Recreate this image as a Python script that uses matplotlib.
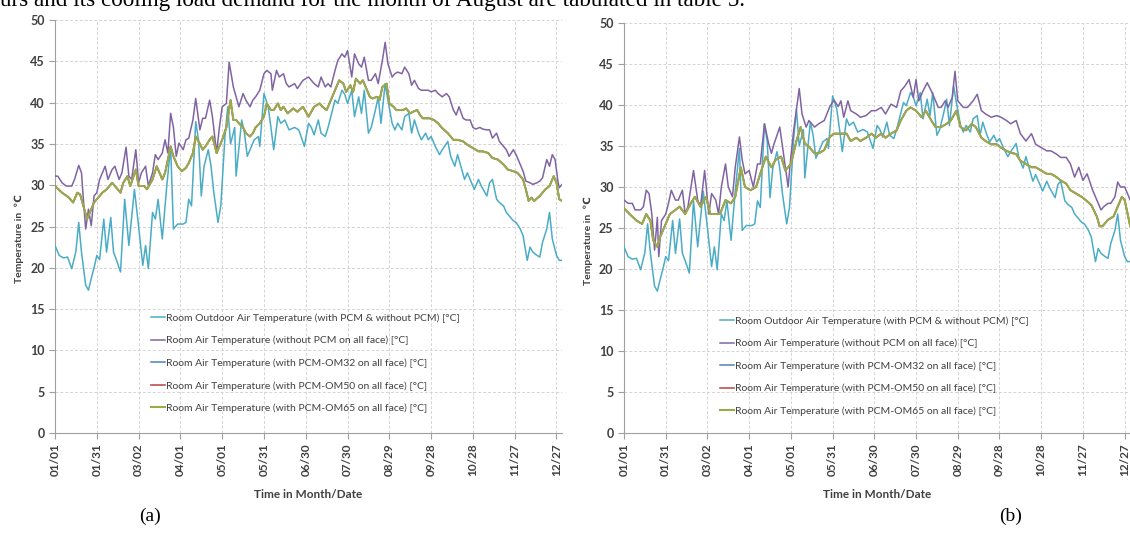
import matplotlib
matplotlib.use("Agg")
import matplotlib.pyplot as plt

# ---- data (day of year, temperature in deg C) ----
tick_days = [0, 30, 60, 90, 120, 150, 180, 210, 240, 270, 300, 330, 360]
tick_labels = ["01/01", "01/31", "03/02", "04/01", "05/01", "05/31", "06/30",
               "07/30", "08/29", "09/28", "10/28", "11/27", "12/27"]

out_day = [0, 3, 6, 9, 12, 15, 17, 19, 22, 24, 26, 28, 30, 32, 35, 37, 40, 42,
           44, 47, 50, 53, 57, 60, 63, 65, 67, 70, 72, 74, 77, 80, 83, 85, 88,
           92, 94, 96, 98, 101, 103, 105, 107, 110, 112, 114, 117, 119, 122,
           124, 126, 129, 130, 134, 136, 138, 141, 143, 146, 147, 150, 153,
           155, 157, 160, 162, 165, 168, 172, 175, 179, 182, 184, 186, 189,
           191, 194, 196, 198, 201, 203, 206, 208, 210, 213, 215, 218, 220,
           222, 225, 227, 230, 232, 234, 237, 239, 242, 244, 246, 249, 251,
           254, 256, 258, 261, 263, 266, 268, 270, 273, 276, 278, 282, 284,
           287, 289, 292, 294, 296, 299, 301, 304, 306, 310, 312, 314, 317,
           319, 322, 324, 326, 329, 331, 334, 336, 339, 341, 343, 346, 348,
           350, 353, 355, 357, 360, 362, 364]
out_temp = [22.7, 21.5, 21.2, 21.3, 19.9, 22.0, 25.5, 21.9, 17.9, 17.3, 18.7,
            20.0, 21.5, 21.0, 25.9, 21.9, 26.1, 21.9, 21.0, 19.5, 28.3, 22.7,
            29.5, 25.0, 20.3, 22.7, 19.9, 26.7, 25.9, 28.3, 23.5, 29.5, 34.7,
            24.7, 25.3, 25.3, 25.5, 28.3, 27.5, 37.7, 35.5, 28.7, 32.3, 34.3,
            32.3, 29.1, 25.5, 27.5, 35.9, 39.5, 35.0, 37.0, 31.1, 37.9, 36.3,
            33.5, 34.7, 35.5, 35.9, 34.7, 41.1, 39.5, 37.0, 34.3, 38.3, 37.5,
            37.9, 36.7, 37.0, 36.7, 34.7, 37.5, 37.0, 36.1, 37.9, 36.3, 35.9,
            37.0, 38.3, 40.3, 39.9, 41.5, 41.0, 39.9, 41.5, 38.3, 40.7, 38.7,
            41.5, 36.3, 37.0, 39.1, 40.7, 37.5, 42.3, 40.3, 37.5, 36.7, 37.5,
            36.7, 38.3, 38.7, 36.3, 37.9, 36.3, 35.5, 36.3, 35.5, 35.9, 34.7,
            33.7, 34.3, 35.3, 33.5, 32.3, 33.7, 31.9, 30.7, 31.5, 30.3, 29.5,
            30.7, 29.9, 28.7, 30.3, 30.7, 28.3, 27.9, 27.5, 26.7, 26.3, 25.7,
            25.5, 24.7, 23.9, 20.9, 22.5, 21.9, 21.5, 21.3, 23.1, 24.7, 26.7,
            23.5, 21.5, 20.9, 20.9]

# panel (a): no PCM room air
a_nopcm_day = [0, 2, 5, 8, 12, 14, 17, 19, 20, 22, 24, 26, 28, 30, 32, 36, 38,
               41, 43, 46, 48, 51, 53, 55, 58, 60, 62, 65, 67, 70, 72, 74, 77,
               79, 81, 83, 85, 87, 89, 92, 94, 96, 99, 101, 104, 106, 108, 111,
               113, 116, 118, 120, 123, 125, 128, 130, 132, 135, 137, 140, 142,
               144, 147, 150, 152, 155, 156, 159, 161, 164, 166, 168, 172, 174,
               178, 182, 186, 189, 191, 194, 196, 198, 201, 203, 206, 208, 210,
               213, 215, 218, 220, 222, 225, 227, 230, 232, 235, 237, 239, 242,
               244, 246, 249, 251, 254, 256, 258, 261, 263, 266, 268, 270, 273,
               275, 278, 281, 283, 286, 288, 290, 293, 295, 298, 300, 302, 305,
               307, 310, 312, 314, 317, 319, 322, 324, 326, 329, 331, 334, 336,
               338, 341, 343, 346, 348, 350, 353, 355, 357, 359, 361, 362, 364]
a_nopcm_temp = [31.1, 31.1, 30.3, 29.9, 29.9, 30.7, 32.4, 31.5, 29.1, 24.7,
                27.1, 25.1, 28.7, 29.1, 30.7, 32.3, 30.7, 31.9, 32.3, 30.7,
                31.5, 34.6, 31.1, 30.7, 34.3, 30.3, 31.5, 32.3, 29.9, 31.5,
                33.7, 33.1, 33.9, 35.5, 33.9, 38.7, 37.0, 33.5, 35.1, 34.3,
                35.5, 35.7, 37.9, 40.5, 36.7, 38.1, 38.1, 40.3, 38.3, 33.9,
                37.0, 39.5, 39.9, 44.9, 41.9, 40.7, 39.5, 41.1, 40.3, 39.5,
                40.3, 40.7, 41.5, 43.5, 43.9, 43.5, 41.5, 43.9, 43.1, 43.5,
                42.3, 41.9, 42.3, 41.7, 42.7, 43.1, 42.3, 41.9, 43.1, 41.9,
                42.3, 41.9, 43.9, 45.1, 45.9, 45.5, 46.3, 43.1, 45.9, 44.7,
                44.3, 45.5, 42.7, 42.7, 43.5, 42.3, 45.1, 47.3, 44.7, 43.1,
                43.5, 43.7, 43.5, 44.3, 43.5, 42.1, 42.7, 41.7, 41.5, 41.5,
                41.5, 41.3, 41.5, 41.1, 40.7, 41.1, 40.7, 39.1, 38.5, 39.5,
                38.1, 37.9, 37.9, 37.0, 36.8, 37.0, 36.8, 36.7, 36.7, 35.7,
                36.3, 35.3, 34.7, 34.3, 33.5, 34.3, 33.7, 32.5, 31.7, 30.5,
                30.3, 30.1, 30.3, 30.5, 30.9, 33.1, 32.3, 33.7, 33.1, 30.5,
                29.7, 30.1]

# panel (a): PCM room air (OM32 / OM50 / OM65 overlap)
a_pcm_day = [0, 5, 10, 13, 16, 18, 21, 23, 25, 28, 30, 34, 37, 41, 43, 47, 49,
             52, 54, 58, 60, 64, 66, 70, 73, 77, 79, 83, 85, 88, 91, 94, 96,
             99, 101, 104, 106, 108, 111, 113, 116, 118, 120, 123, 126, 128,
             130, 132, 135, 137, 140, 142, 144, 147, 150, 152, 155, 157, 160,
             162, 164, 167, 171, 174, 178, 182, 186, 190, 192, 195, 197, 200,
             202, 204, 207, 209, 212, 214, 216, 219, 221, 224, 226, 228, 231,
             233, 235, 238, 240, 243, 245, 248, 250, 252, 255, 257, 260, 262,
             264, 267, 269, 272, 275, 278, 282, 286, 289, 293, 296, 300, 304,
             307, 311, 314, 318, 322, 325, 329, 332, 336, 338, 340, 342, 344,
             348, 352, 355, 358, 360, 362, 364]
a_pcm_temp = [29.9, 29.1, 28.5, 27.9, 29.1, 28.9, 27.1, 25.9, 26.7, 27.9, 28.3,
              29.1, 29.5, 30.3, 29.9, 29.1, 30.3, 31.1, 29.9, 31.9, 29.9, 29.9,
              29.5, 30.7, 32.3, 30.7, 31.5, 34.7, 33.5, 32.3, 31.7, 32.1, 32.7,
              33.9, 35.9, 35.0, 34.3, 34.7, 35.5, 35.9, 33.9, 34.7, 35.5, 37.0,
              40.3, 37.9, 37.9, 37.5, 37.0, 36.3, 35.9, 36.3, 37.0, 37.5, 38.3,
              39.9, 39.1, 39.1, 39.9, 39.1, 39.5, 38.7, 39.3, 38.9, 39.5, 38.3,
              39.5, 39.9, 39.5, 39.1, 39.9, 41.1, 41.9, 42.7, 42.3, 41.3, 42.1,
              41.3, 42.9, 42.3, 42.7, 41.5, 40.7, 40.5, 40.7, 40.3, 41.9, 42.3,
              39.9, 39.5, 39.1, 39.1, 39.1, 39.3, 38.7, 38.9, 39.1, 38.5, 38.1,
              38.1, 38.1, 37.9, 37.5, 36.9, 36.3, 35.5, 35.5, 35.3, 34.9, 34.5,
              34.1, 34.1, 33.9, 33.3, 33.1, 32.5, 31.9, 31.7, 31.5, 30.7, 29.5,
              28.1, 28.5, 28.1, 28.7, 29.5, 29.9, 31.1, 30.3, 28.3, 28.1]

# panel (b): no PCM room air
b_nopcm_day = [0, 3, 6, 8, 12, 14, 16, 18, 20, 22, 24, 25, 27, 30, 32, 34, 37,
               39, 42, 44, 46, 50, 53, 55, 58, 61, 63, 66, 68, 70, 73, 75, 78,
               80, 83, 85, 87, 90, 93, 96, 98, 101, 104, 106, 108, 112, 114,
               118, 120, 122, 126, 128, 131, 133, 137, 140, 144, 148, 151, 154,
               156, 158, 161, 163, 167, 170, 174, 178, 181, 185, 188, 192, 196,
               199, 202, 205, 208, 210, 212, 215, 218, 221, 223, 226, 228, 231,
               233, 236, 238, 240, 244, 247, 251, 254, 257, 260, 264, 268, 271,
               275, 278, 282, 285, 289, 293, 296, 300, 304, 307, 311, 314, 318,
               321, 324, 327, 330, 333, 337, 341, 343, 345, 348, 350, 353, 355,
               357, 360, 362, 364]
b_nopcm_temp = [28.4, 28.0, 28.0, 27.2, 27.2, 27.6, 29.6, 29.2, 26.7, 22.3,
                26.3, 21.5, 25.9, 26.7, 28.0, 29.6, 28.4, 28.4, 29.6, 26.7,
                27.6, 32.0, 28.4, 27.6, 32.0, 26.7, 29.2, 28.4, 26.7, 30.0,
                32.8, 30.0, 28.8, 32.4, 36.1, 33.3, 31.6, 32.0, 30.0, 32.8,
                32.8, 37.7, 35.3, 34.1, 35.3, 37.3, 34.9, 30.0, 33.7, 36.9,
                42.0, 38.9, 37.3, 38.1, 37.3, 37.7, 38.1, 39.8, 40.6, 39.8,
                40.5, 38.5, 40.5, 39.3, 38.9, 38.5, 38.7, 39.3, 39.3, 39.7,
                38.9, 40.1, 39.7, 41.7, 42.3, 43.1, 40.9, 43.1, 40.5, 41.7,
                42.7, 41.7, 40.9, 39.7, 39.7, 40.5, 39.7, 40.9, 44.1, 40.5,
                39.7, 39.7, 40.5, 41.3, 39.3, 38.9, 38.5, 38.7, 38.5, 38.1,
                37.7, 38.1, 36.5, 35.6, 36.5, 35.2, 34.8, 34.4, 34.4, 34.0,
                33.6, 33.6, 32.8, 31.2, 32.4, 30.8, 31.6, 29.6, 28.0, 27.2,
                27.6, 28.0, 28.0, 28.8, 30.6, 30.0, 30.0, 29.2, 28.4]

# panel (b): PCM room air (OM32 / OM50 / OM65 overlap)
b_pcm_day = [0, 4, 9, 13, 16, 19, 21, 24, 26, 30, 33, 37, 40, 44, 48, 51, 55,
             59, 62, 66, 69, 73, 77, 80, 84, 87, 91, 95, 98, 102, 106, 109, 113,
             116, 120, 124, 127, 130, 133, 137, 140, 144, 148, 151, 155, 160,
             163, 167, 170, 174, 178, 181, 185, 188, 192, 196, 199, 203, 206,
             210, 214, 217, 221, 224, 228, 232, 235, 239, 242, 246, 250, 253,
             257, 260, 264, 268, 271, 275, 278, 282, 285, 289, 293, 296, 300,
             304, 307, 311, 314, 318, 321, 325, 329, 332, 336, 340, 342, 344,
             348, 352, 355, 358, 360, 362, 364]
b_pcm_temp = [27.4, 26.7, 25.9, 25.5, 26.7, 25.9, 23.5, 22.7, 23.9, 25.5, 26.7,
              27.2, 27.6, 26.7, 28.0, 28.8, 27.6, 28.8, 26.7, 26.7, 26.7, 28.4,
              28.0, 28.8, 32.4, 30.0, 29.6, 30.0, 31.6, 33.7, 32.4, 33.3, 33.7,
              32.0, 32.8, 35.6, 37.3, 35.3, 34.9, 34.1, 34.1, 34.5, 36.1, 36.5,
              36.5, 36.5, 35.6, 36.0, 35.6, 36.0, 36.5, 36.0, 36.5, 36.0, 36.5,
              36.9, 38.1, 39.3, 39.7, 39.3, 38.5, 39.3, 38.1, 37.3, 37.3, 37.7,
              38.1, 39.3, 37.3, 36.9, 37.7, 37.3, 36.0, 35.6, 35.2, 35.2, 34.8,
              34.4, 34.2, 34.0, 33.2, 32.8, 32.4, 32.4, 32.0, 31.6, 31.6, 31.2,
              30.8, 30.4, 29.6, 29.2, 28.8, 28.4, 27.8, 26.4, 25.2, 25.2, 26.0,
              26.4, 27.6, 28.8, 28.4, 26.8, 25.2]

labels = ["Room Outdoor Air Temperature (with PCM & without PCM) [°C]",
          "Room Air Temperature (without PCM on all face) [°C]",
          "Room Air Temperature (with PCM-OM32 on all face) [°C]",
          "Room Air Temperature (with PCM-OM50 on all face) [°C]",
          "Room Air Temperature (with PCM-OM65 on all face) [°C]"]

C_OUT = "#4BACC6"
C_NOPCM = "#8064A2"
C_OM32 = "#4F81BD"
C_OM50 = "#C0504D"
C_OM65 = "#9BAA4E"
TXT = "#404040"
FONT = ["Lato", "DejaVu Sans"]

plt.rcParams["font.family"] = FONT


def draw_panel(ax, nopcm_day, nopcm_temp, pcm_day, pcm_temp, leg_anchor):
    ax.plot(out_day, out_temp, color=C_OUT, lw=1.1, label=labels[0], zorder=3)
    ax.plot(nopcm_day, nopcm_temp, color=C_NOPCM, lw=1.1, label=labels[1], zorder=3)
    ax.plot(pcm_day, pcm_temp, color=C_OM32, lw=1.1, label=labels[2], zorder=3)
    ax.plot(pcm_day, pcm_temp, color=C_OM50, lw=1.2, label=labels[3], zorder=3)
    ax.plot(pcm_day, pcm_temp, color=C_OM65, lw=1.5, label=labels[4], zorder=4)

    ax.set_xlim(0, 364)
    ax.set_ylim(0, 50)
    ax.set_yticks(range(0, 51, 5))
    ax.set_xticks(tick_days)
    ax.set_xticklabels(tick_labels, rotation=90)
    ax.grid(True, color="#d4d4d4", lw=0.7, ls=(0, (3, 2)))
    ax.set_axisbelow(True)
    for s in ["top", "right"]:
        ax.spines[s].set_visible(False)
    for s in ["left", "bottom"]:
        ax.spines[s].set_color("#a0a0a0")
        ax.spines[s].set_linewidth(0.8)
    ax.tick_params(axis="both", colors="#a0a0a0", labelcolor=TXT, length=4,
                   width=0.8)
    for t in ax.get_yticklabels():
        t.set_fontsize(9)
        t.set_fontweight("bold")
    for t in ax.get_xticklabels():
        t.set_fontsize(8.5)
        t.set_fontweight("bold")

    ax.set_xlabel("Time in Month/Date", fontsize=8.5, fontweight="bold",
                  color=TXT, labelpad=9)
    ax.set_ylabel("Temperature in  ℃", fontsize=7.5, fontweight="bold",
                  color=TXT)
    ax.yaxis.set_label_coords(-0.062, 0.47)

    leg = ax.legend(loc="upper left", bbox_to_anchor=leg_anchor, frameon=False,
                    fontsize=7.5, handlelength=1.3, handletextpad=0.15,
                    labelspacing=1.25, borderpad=0, borderaxespad=0)
    for t in leg.get_texts():
        t.set_color(TXT)


fig = plt.figure(figsize=(11.3, 5.34), dpi=100)
ax_a = fig.add_axes([0.0487, 0.1891, 0.4487, 0.7734])
ax_b = fig.add_axes([0.5522, 0.1891, 0.4480, 0.7680])

draw_panel(ax_a, a_nopcm_day, a_nopcm_temp, a_pcm_day, a_pcm_temp, (0.19, 0.29))
draw_panel(ax_b, b_nopcm_day, b_nopcm_temp, b_pcm_day, b_pcm_temp, (0.19, 0.285))

fig.text(0.0, 0.988, "urs and its cooling load demand for the month of August "
         "are tabulated in table 5.", family="Liberation Serif", fontsize=16.7,
         va="baseline", ha="left")
fig.text(0.133, 0.025, "(a)", family="Liberation Serif", fontsize=14, ha="center")
fig.text(0.894, 0.025, "(b)", family="Liberation Serif", fontsize=14, ha="center")

fig.savefig("out.png", dpi=100)
